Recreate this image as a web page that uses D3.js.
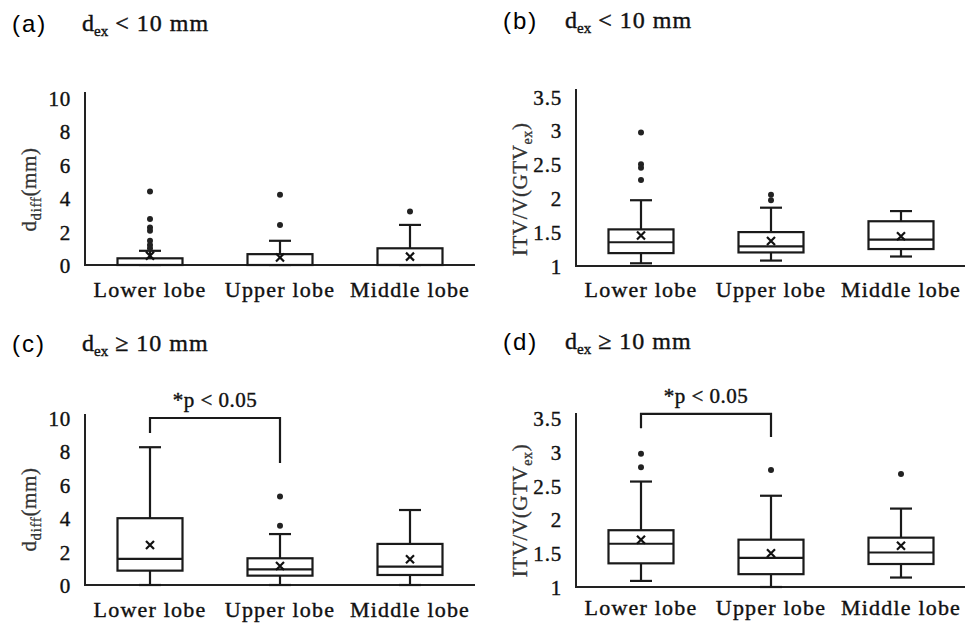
<!DOCTYPE html>
<html>
<head>
<meta charset="utf-8">
<script src="https://cdn.jsdelivr.net/npm/d3@7"></script>
<style>
  body { margin: 0; background: #fff; }
</style>
</head>
<body>
<div id="chart"></div>
<script>
// categories shared by every panel
var categories = ["Lower lobe", "Upper lobe", "Middle lobe"];

// box stats per category: [whiskerLow, q1, median, q3, whiskerHigh, mean]
var boxesA = [[0, 0, 0, 0.4, 0.85, 0.55], [0, 0, 0, 0.65, 1.45, 0.45], [0, 0, 0, 1.0, 2.4, 0.5]];
var outliersA = [[4.4, 2.75, 2.25, 2.05, 1.45, 1.2, 1.0], [4.2, 2.4], [3.2]];

var boxesB = [[1.04, 1.19, 1.35, 1.54, 1.97, 1.45], [1.08, 1.2, 1.29, 1.5, 1.86, 1.37], [1.14, 1.25, 1.39, 1.66, 1.81, 1.44]];
var outliersB = [[2.97, 2.5, 2.45, 2.27], [2.05, 1.97], []];

var boxesC = [[0, 0.86, 1.56, 4.0, 8.25, 2.4], [0, 0.56, 0.94, 1.6, 3.05, 1.14], [0, 0.6, 1.1, 2.46, 4.49, 1.54]];
var outliersC = [[], [5.3, 3.55], []];

var boxesD = [[1.09, 1.35, 1.64, 1.84, 2.56, 1.7], [1.0, 1.19, 1.43, 1.7, 2.35, 1.5], [1.14, 1.34, 1.51, 1.73, 2.16, 1.61]];
var outliersD = [[2.97, 2.77], [2.73], [2.67]];

// tick values
var ticksDiff = [0, 2, 4, 6, 8, 10];
var ticksRatio = [1, 1.5, 2, 2.5, 3, 3.5];

var width = 965, height = 624;
var serif = "'Liberation Serif', 'Times New Roman', serif";

var svg = d3.select("#chart").append("svg")
  .attr("width", width)
  .attr("height", height);

var panels = [
  {tag: "(a)", op: "<", boxes: boxesA, outliers: outliersA, ticks: ticksDiff, domain: [0, 10],
   x0: 85, x1: 475, yb: 265, yt: 98, axisTop: 92, titleY: 31, labelY: 297, kind: "diff"},
  {tag: "(b)", op: "<", boxes: boxesB, outliers: outliersB, ticks: ticksRatio, domain: [1, 3.5],
   x0: 576, x1: 966, yb: 266, yt: 96.5, axisTop: 89, titleY: 28, labelY: 297, kind: "ratio"},
  {tag: "(c)", op: "\u2265", boxes: boxesC, outliers: outliersC, ticks: ticksDiff, domain: [0, 10],
   x0: 85, x1: 475, yb: 585, yt: 418, axisTop: 414, titleY: 351, labelY: 617, kind: "diff",
   sig: {y: 10, left: 9.1, right: 7.3, textY: 407}},
  {tag: "(d)", op: "\u2265", boxes: boxesD, outliers: outliersD, ticks: ticksRatio, domain: [1, 3.5],
   x0: 576, x1: 966, yb: 587, yt: 418, axisTop: 413, titleY: 349, labelY: 615, kind: "ratio",
   sig: {y: 3.56, left: 3.35, right: 3.22, textY: 403}}
];

panels.forEach(function(p) {
  var g = svg.append("g");

  var x = d3.scaleBand().domain(categories).range([p.x0, p.x1]);
  var y = d3.scaleLinear().domain(p.domain).range([p.yb, p.yt]);
  var bw = x.bandwidth() * 0.5;
  var capW = 22;

  // panel tag and subtitle
  g.append("text")
    .attr("x", p.x0 - 73)
    .attr("y", p.titleY + 1)
    .style("font-family", "'Liberation Sans', Arial, sans-serif")
    .style("font-size", "24px")
    .style("letter-spacing", "2px")
    .text(p.tag);

  var t = g.append("text")
    .attr("x", p.kind === "ratio" ? p.x0 - 11 : p.x0 - 3)
    .attr("y", p.titleY)
    .style("font-family", serif)
    .style("font-size", "24px")
    .style("fill", "#111")
    .style("stroke", "#111").style("stroke-width", 0.4);
  t.append("tspan").text("d");
  t.append("tspan").attr("dy", 5).style("font-size", "15px").text("ex");
  t.append("tspan").attr("dy", -5).style("letter-spacing", "1px").text(" " + p.op + " 10 mm");

  // y axis
  var yAxis = d3.axisLeft(y)
    .tickValues(p.ticks)
    .tickSize(0)
    .tickPadding(14)
    .tickFormat(d3.format("~g"));

  var ya = g.append("g")
    .attr("transform", "translate(" + p.x0 + ",0)")
    .call(yAxis);
  ya.select(".domain").remove();
  ya.selectAll("text")
    .style("font-family", serif)
    .style("font-size", "21px")
    .style("letter-spacing", "0.8px")
    .style("fill", "#111")
    .style("stroke", "#111").style("stroke-width", 0.4)
    .attr("dy", "0.36em");

  // x axis
  var xAxis = d3.axisBottom(x).tickSize(0).tickPadding(14);
  var xa = g.append("g")
    .attr("transform", "translate(0," + p.yb + ")")
    .call(xAxis);
  xa.select(".domain").remove();
  xa.selectAll("text")
    .attr("y", p.labelY - p.yb)
    .attr("dy", 0)
    .style("font-family", serif)
    .style("font-size", "22px")
    .style("letter-spacing", "1.2px")
    .style("fill", "#111")
    .style("stroke", "#111").style("stroke-width", 0.4);

  // axis lines
  g.append("line")
    .attr("x1", p.x0).attr("x2", p.x0)
    .attr("y1", p.axisTop).attr("y2", p.yb + 1)
    .attr("stroke", "#222").attr("stroke-width", 2);
  g.append("line")
    .attr("x1", p.x0).attr("x2", p.x1)
    .attr("y1", p.yb).attr("y2", p.yb)
    .attr("stroke", "#222").attr("stroke-width", 2);

  // y axis title
  var yt = g.append("text")
    .attr("transform", "translate(" + (p.x0 - 49) + "," + ((p.yb + p.yt) / 2 + 8) + ") rotate(-90)")
    .attr("text-anchor", "middle")
    .style("font-family", serif)
    .style("font-size", "21px")
    .style("letter-spacing", "0.6px")
    .style("fill", "#333")
    .style("stroke", "#333").style("stroke-width", 0.3);
  if (p.kind === "diff") {
    yt.append("tspan").text("d");
    yt.append("tspan").attr("dy", 5).style("font-size", "15px").text("diff");
    yt.append("tspan").attr("dy", -5).text("(mm)");
  } else {
    yt.append("tspan").text("ITV/V(GTV");
    yt.append("tspan").attr("dy", 5).style("font-size", "14px").text("ex");
    yt.append("tspan").attr("dy", -5).text(")");
  }

  // boxes
  var box = g.selectAll(".box")
    .data(p.boxes.map(function(b, i) { return {cat: categories[i], s: b, out: p.outliers[i]}; }))
    .enter().append("g")
    .attr("class", "box")
    .attr("transform", function(d) { return "translate(" + (x(d.cat) + x.bandwidth() / 2) + ",0)"; });

  var ink = "#1a1a1a", sw = 2.2;

  // whiskers
  box.append("line")
    .attr("x1", 0).attr("x2", 0)
    .attr("y1", function(d) { return y(d.s[3]); })
    .attr("y2", function(d) { return y(d.s[4]); })
    .attr("stroke", ink).attr("stroke-width", sw);
  box.append("line")
    .attr("x1", 0).attr("x2", 0)
    .attr("y1", function(d) { return y(d.s[0]); })
    .attr("y2", function(d) { return y(d.s[1]); })
    .attr("stroke", ink).attr("stroke-width", sw);
  box.append("line")
    .attr("x1", -capW / 2).attr("x2", capW / 2)
    .attr("y1", function(d) { return y(d.s[4]); })
    .attr("y2", function(d) { return y(d.s[4]); })
    .attr("stroke", ink).attr("stroke-width", sw);
  box.append("line")
    .attr("x1", -capW / 2).attr("x2", capW / 2)
    .attr("y1", function(d) { return y(d.s[0]); })
    .attr("y2", function(d) { return y(d.s[0]); })
    .attr("stroke", ink).attr("stroke-width", sw);

  box.append("rect")
    .attr("x", -bw / 2)
    .attr("width", bw)
    .attr("y", function(d) { return y(d.s[3]); })
    .attr("height", function(d) { return y(d.s[1]) - y(d.s[3]); })
    .attr("fill", "#fff")
    .attr("stroke", ink).attr("stroke-width", sw);

  box.append("line")
    .attr("x1", -bw / 2).attr("x2", bw / 2)
    .attr("y1", function(d) { return y(d.s[2]); })
    .attr("y2", function(d) { return y(d.s[2]); })
    .attr("stroke", ink).attr("stroke-width", sw);

  // mean marker
  box.append("path")
    .attr("d", function(d) {
      var m = y(d.s[5]), r = 4;
      return "M" + (-r) + "," + (m - r) + "L" + r + "," + (m + r) + "M" + r + "," + (m - r) + "L" + (-r) + "," + (m + r);
    })
    .attr("stroke", "#111").attr("stroke-width", 2.2);

  // outliers
  box.selectAll(".out")
    .data(function(d) { return d.out; })
    .enter().append("circle")
    .attr("class", "out")
    .attr("cx", 0)
    .attr("cy", function(d) { return y(d); })
    .attr("r", 3)
    .attr("fill", "#222");

  // significance bracket
  if (p.sig) {
    var xl = x(categories[0]) + x.bandwidth() / 2;
    var xr = x(categories[1]) + x.bandwidth() / 2;
    g.append("path")
      .attr("d", "M" + xl + "," + y(p.sig.left) + "V" + y(p.sig.y) + "H" + xr + "V" + y(p.sig.right))
      .attr("fill", "none")
      .attr("stroke", ink).attr("stroke-width", sw);
    g.append("text")
      .attr("x", (xl + xr) / 2)
      .attr("y", p.sig.textY)
      .attr("text-anchor", "middle")
      .style("font-family", serif)
      .style("font-size", "21px")
      .style("letter-spacing", "0.5px")
      .style("fill", "#111")
      .style("stroke", "#111").style("stroke-width", 0.4)
      .text("*p < 0.05");
  }
});
</script>
</body>
</html>
